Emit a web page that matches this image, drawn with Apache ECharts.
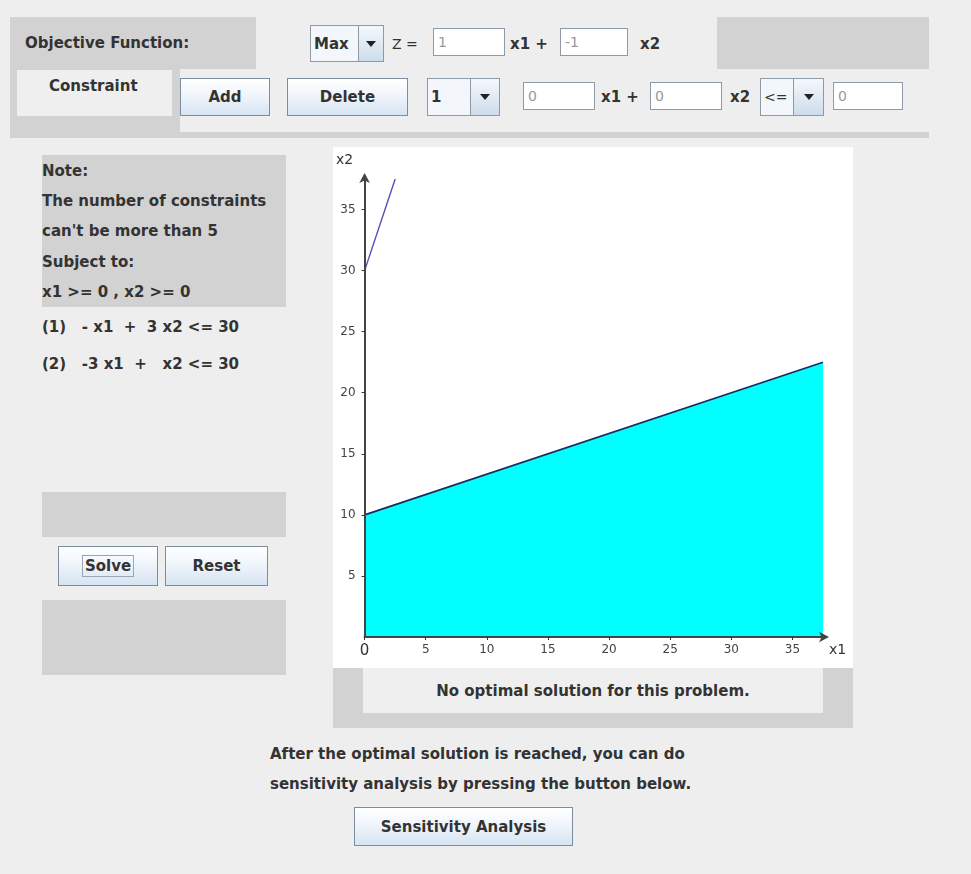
<!DOCTYPE html>
<html>
<head>
<meta charset="utf-8">
<script src="https://cdn.jsdelivr.net/npm/echarts@6/dist/echarts.min.js"></script>
<style>
  html,body{margin:0;padding:0;background:#eeeeee;}
  #page{position:relative;width:971px;height:874px;background:#eeeeee;overflow:hidden;
        font-family:"DejaVu Sans",Arial,sans-serif;color:#333;}
  .abs{position:absolute;box-sizing:border-box;}
  .gray{background:#d2d2d2;}
  .lbl{position:absolute;font-weight:bold;font-size:15px;color:#333;white-space:nowrap;line-height:1;}
  .btn{position:absolute;box-sizing:border-box;border:1px solid #7d8da0;
       background:linear-gradient(#ffffff 0%,#f0f5fb 45%,#d6e4f2 100%);
       font-weight:bold;font-size:15px;color:#333;display:flex;align-items:center;justify-content:center;}
  .inp{position:absolute;box-sizing:border-box;border:1px solid #8e9aa8;background:#fff;
       font-size:14px;color:#999;padding-left:4px;display:flex;align-items:center;}
  .combo{position:absolute;box-sizing:border-box;border:1px solid #8e9aa8;display:flex;}
  .combo .t{background:#f3f7fb;font-weight:bold;font-size:15px;color:#333;display:flex;align-items:center;padding-left:3px;box-sizing:border-box;border-right:1px solid #8e9aa8;}
  .combo .a{flex:1;background:linear-gradient(#f4f8fc,#cddcec);display:flex;align-items:center;justify-content:center;}
  .tri{width:0;height:0;border-left:5px solid transparent;border-right:5px solid transparent;border-top:6px solid #222;}
  #chart{position:absolute;left:333px;top:147px;width:520px;height:521px;background:#fff;}
</style>
</head>
<body>
<div id="page">
  <!-- top panel -->
  <div class="abs gray" style="left:10px;top:17px;width:246px;height:52px;"></div>
  <div class="abs gray" style="left:717px;top:17px;width:212px;height:52px;"></div>
  <div class="abs gray" style="left:10px;top:69px;width:170px;height:69px;"></div>
  <div class="abs gray" style="left:180px;top:132px;width:749px;height:6px;"></div>
  <div class="abs" style="left:17px;top:70px;width:155px;height:46px;background:#efefef;"></div>
  <div class="lbl" style="left:25px;top:36px;">Objective Function:</div>
  <div class="lbl" style="left:49px;top:79px;">Constraint</div>

  <div class="combo" style="left:310px;top:25px;width:74px;height:37px;">
    <div class="t" style="width:48px;">Max</div><div class="a"><div class="tri"></div></div>
  </div>
  <div class="lbl" style="left:392px;top:37px;font-weight:normal;font-size:14px;">Z =</div>
  <div class="inp" style="left:433px;top:28px;width:72px;height:28px;">1</div>
  <div class="lbl" style="left:510px;top:37px;">x1 +</div>
  <div class="inp" style="left:560px;top:28px;width:68px;height:28px;">-1</div>
  <div class="lbl" style="left:640px;top:37px;">x2</div>

  <div class="btn" style="left:180px;top:78px;width:90px;height:38px;">Add</div>
  <div class="btn" style="left:287px;top:78px;width:121px;height:38px;">Delete</div>
  <div class="combo" style="left:427px;top:78px;width:73px;height:38px;">
    <div class="t" style="width:43px;">1</div><div class="a"><div class="tri"></div></div>
  </div>
  <div class="inp" style="left:523px;top:82px;width:72px;height:28px;">0</div>
  <div class="lbl" style="left:601px;top:90px;">x1 +</div>
  <div class="inp" style="left:650px;top:82px;width:72px;height:28px;">0</div>
  <div class="lbl" style="left:730px;top:90px;">x2</div>
  <div class="combo" style="left:760px;top:78px;width:64px;height:38px;">
    <div class="t" style="width:33px;font-weight:normal;font-size:14px;">&lt;=</div><div class="a"><div class="tri"></div></div>
  </div>
  <div class="inp" style="left:833px;top:82px;width:70px;height:28px;">0</div>

  <!-- left panel -->
  <div class="abs gray" style="left:42px;top:155px;width:244px;height:152px;"></div>
  <div class="lbl" style="left:42px;top:164px;">Note:</div>
  <div class="lbl" style="left:42px;top:194px;">The number of constraints</div>
  <div class="lbl" style="left:42px;top:224px;">can't be more than 5</div>
  <div class="lbl" style="left:42px;top:255px;">Subject to:</div>
  <div class="lbl" style="left:42px;top:285px;">x1 &gt;= 0 , x2 &gt;= 0</div>
  <div class="lbl" style="left:42px;top:320px;white-space:pre;">(1)   - x1  +  3 x2 &lt;= 30</div>
  <div class="lbl" style="left:42px;top:357px;white-space:pre;">(2)   -3 x1  +   x2 &lt;= 30</div>

  <div class="abs gray" style="left:42px;top:492px;width:244px;height:45px;"></div>
  <div class="btn" style="left:58px;top:546px;width:100px;height:40px;"><span style="border:1px solid #9aa6b4;padding:1px 2px;">Solve</span></div>
  <div class="btn" style="left:165px;top:546px;width:103px;height:40px;">Reset</div>
  <div class="abs gray" style="left:42px;top:600px;width:244px;height:75px;"></div>

  <!-- chart -->
  <div id="chart"></div>

  <!-- status -->
  <div class="abs gray" style="left:333px;top:668px;width:520px;height:60px;"></div>
  <div class="abs" style="left:363px;top:668px;width:460px;height:45px;background:#efefef;"></div>
  <div class="lbl" style="left:363px;top:684px;width:460px;text-align:center;">No optimal solution for this problem.</div>

  <div class="lbl" style="left:270px;top:747px;">After the optimal solution is reached, you can do</div>
  <div class="lbl" style="left:270px;top:777px;">sensitivity analysis by pressing the button below.</div>
  <div class="btn" style="left:354px;top:807px;width:219px;height:39px;">Sensitivity Analysis</div>
</div>

<script>
// Constraint (1): -x1 + 3x2 <= 30  -> boundary line
const c1X = [0, 37.5];
const c1Y = [10, 22.5];
// Constraint (2): -3x1 + x2 <= 30 -> boundary line
const c2X = [0, 2.5];
const c2Y = [30, 37.5];
// axis range / ticks
const axisMax = 37.5;
const tickStep = 5;
const axisNames = ['x1', 'x2'];

const chart = echarts.init(document.getElementById('chart'), null, {renderer: 'canvas'});
const tickFont = {color: '#444', fontSize: 12, fontFamily: 'DejaVu Sans, Arial'};

chart.setOption({
  animation: false,
  backgroundColor: '#ffffff',
  grid: {left: 31, right: 30, top: 32, bottom: 31, containLabel: false},
  xAxis: {
    type: 'value', min: 0, max: axisMax, interval: tickStep, z: 5,
    name: axisNames[0], nameLocation: 'end', nameGap: 6,
    nameTextStyle: {color: '#333', fontSize: 14, fontFamily: 'DejaVu Sans', verticalAlign: 'top', padding: [6, 0, 0, 0]},
    splitLine: {show: false},
    axisLine: {lineStyle: {color: '#444', width: 2}, symbol: ['none', 'arrow'], symbolSize: [8, 10], symbolOffset: [0, 6]},
    axisTick: {show: true, length: 3, lineStyle: {color: '#333'}},
    axisLabel: {
      showMaxLabel: false, margin: 7,
      formatter: v => (v === 0 ? '{z|0}' : String(v)),
      rich: {z: {fontSize: 15, color: '#333', fontFamily: 'DejaVu Sans'}},
      ...tickFont
    }
  },
  yAxis: {
    type: 'value', min: 0, max: axisMax, interval: tickStep, z: 5,
    name: axisNames[1], nameLocation: 'end', nameGap: 12,
    nameTextStyle: {color: '#333', fontSize: 14, fontFamily: 'DejaVu Sans', padding: [0, 40, 0, 0]},
    splitLine: {show: false},
    axisLine: {lineStyle: {color: '#444', width: 2}, symbol: ['none', 'arrow'], symbolSize: [8, 10], symbolOffset: [0, 6]},
    axisTick: {show: true, length: 3, lineStyle: {color: '#333'}},
    axisLabel: {showMaxLabel: false, showMinLabel: false, margin: 9, ...tickFont}
  },
  series: [
    {
      type: 'line', name: 'c1',
      data: c1X.map((x, i) => [x, c1Y[i]]),
      showSymbol: false, symbol: 'none',
      lineStyle: {color: '#1e2a5c', width: 1.6},
      areaStyle: {color: '#00ffff', opacity: 1, origin: 'start'},
      z: 2
    },
    {
      type: 'line', name: 'c2',
      data: c2X.map((x, i) => [x, c2Y[i]]),
      showSymbol: false, symbol: 'none',
      lineStyle: {color: '#5050b8', width: 1.4},
      z: 3
    }
  ]
});
</script>
</body>
</html>
